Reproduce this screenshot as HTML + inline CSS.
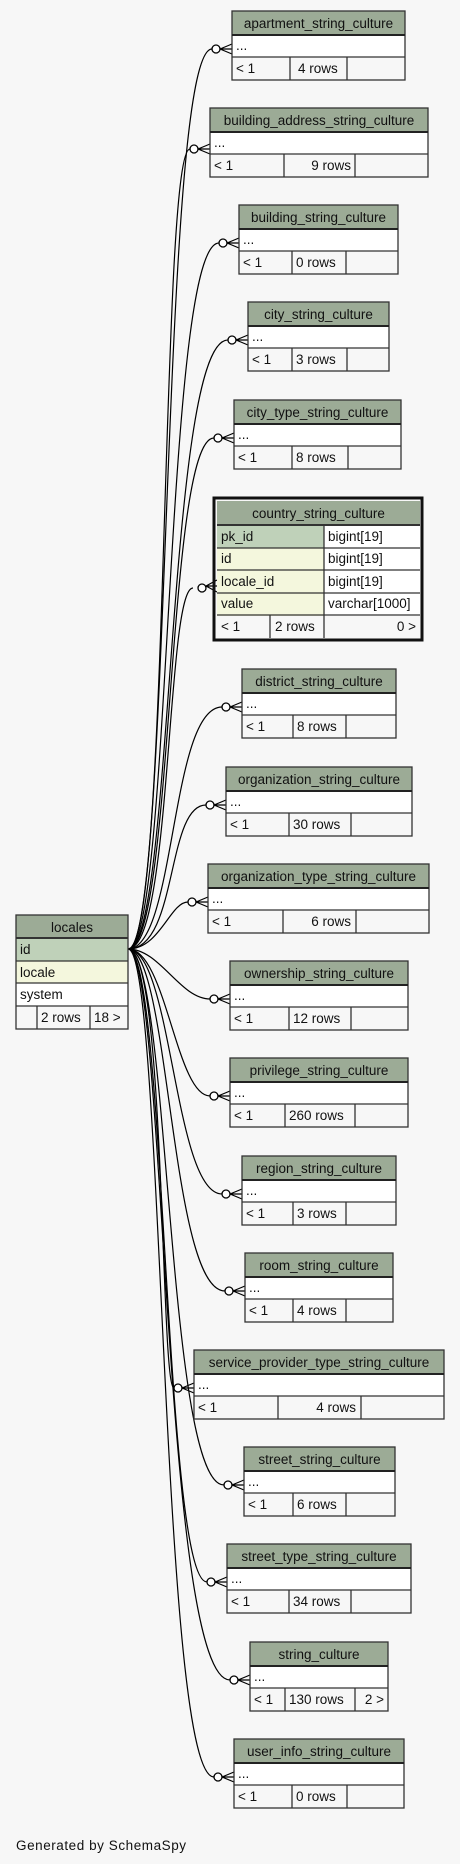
<!DOCTYPE html>
<html><head><meta charset="utf-8"><style>
html,body{margin:0;padding:0;background:#f7f7f7;}
svg{display:block;font-family:"Liberation Sans",Arial,sans-serif;}
text{font-size:13.5px;fill:#111;}
.h{fill:#9cab96;}
.b{stroke:#333;stroke-width:1.3;fill:none;}
.e{stroke:#000;stroke-width:1.2;fill:none;}
</style></head><body>
<svg width="460" height="1864" viewBox="0 0 460 1864" xmlns="http://www.w3.org/2000/svg">
<rect width="460" height="1864" fill="#f7f7f7"/>

<!-- connectors -->
<g class="e">
<path d="M128,949 C172,949 160,49 212,49"/>
<path d="M128,949 C170,949 160,149 190,149"/>
<path d="M128,949 C172,949 164,243 219,243"/>
<path d="M128,949 C174,949 166,340 228,340"/>
<path d="M128,949 C174,949 166,438 214,438"/>
<path d="M128,949 C172,949 166,588 193,588"/>
<path d="M128,949 C176,949 170,707 222,707"/>
<path d="M128,949 C178,949 166,805 206,805"/>
<path d="M128,949 C160,949 170,902 188,902"/>
<path d="M128,949 C160,949 180,999 210,999"/>
<path d="M128,949 C166,949 176,1096 210,1096"/>
<path d="M128,949 C172,949 174,1194 222,1194"/>
<path d="M128,949 C170,949 170,1291 225,1291"/>
<path d="M128,949 C166,949 160,1388 174,1388"/>
<path d="M128,949 C170,949 166,1485 224,1485"/>
<path d="M128,949 C166,949 164,1582 207,1582"/>
<path d="M128,949 C166,949 162,1680 230,1680"/>
<path d="M128,949 C164,949 160,1777 214,1777"/>
</g>
<g stroke="#000" stroke-width="1.3" fill="#fff">
<circle cx="216" cy="49" r="4"/><circle cx="194" cy="149" r="4"/><circle cx="223" cy="243" r="4"/>
<circle cx="232" cy="340" r="4"/><circle cx="218" cy="438" r="4"/><circle cx="202" cy="588" r="4"/>
<circle cx="226" cy="707" r="4"/><circle cx="210" cy="805" r="4"/><circle cx="192" cy="902" r="4"/>
<circle cx="214" cy="999" r="4"/><circle cx="214" cy="1096" r="4"/><circle cx="226" cy="1194" r="4"/>
<circle cx="229" cy="1291" r="4"/><circle cx="178" cy="1388" r="4"/><circle cx="228" cy="1485" r="4"/>
<circle cx="211" cy="1582" r="4"/><circle cx="234" cy="1680" r="4"/><circle cx="218" cy="1777" r="4"/>
</g>
<g class="e">
<path d="M220,49 L232,44 M220,49 L232,49 M220,49 L232,54"/>
<path d="M198,149 L210,144 M198,149 L210,149 M198,149 L210,154"/>
<path d="M227,243 L239,238 M227,243 L239,243 M227,243 L239,248"/>
<path d="M236,340 L248,335 M236,340 L248,340 M236,340 L248,345"/>
<path d="M222,438 L234,433 M222,438 L234,438 M222,438 L234,443"/>
<path d="M206,586 L217,580 M206,586 L217,586 M206,586 L217,592"/>
<path d="M230,707 L242,702 M230,707 L242,707 M230,707 L242,712"/>
<path d="M214,805 L226,800 M214,805 L226,805 M214,805 L226,810"/>
<path d="M196,902 L208,897 M196,902 L208,902 M196,902 L208,907"/>
<path d="M218,999 L230,994 M218,999 L230,999 M218,999 L230,1004"/>
<path d="M218,1096 L230,1091 M218,1096 L230,1096 M218,1096 L230,1101"/>
<path d="M230,1194 L242,1189 M230,1194 L242,1194 M230,1194 L242,1199"/>
<path d="M233,1291 L245,1286 M233,1291 L245,1291 M233,1291 L245,1296"/>
<path d="M182,1388 L194,1383 M182,1388 L194,1388 M182,1388 L194,1393"/>
<path d="M232,1485 L244,1480 M232,1485 L244,1485 M232,1485 L244,1490"/>
<path d="M215,1582 L227,1577 M215,1582 L227,1582 M215,1582 L227,1587"/>
<path d="M238,1680 L250,1675 M238,1680 L250,1680 M238,1680 L250,1685"/>
<path d="M222,1777 L234,1772 M222,1777 L234,1777 M222,1777 L234,1782"/>
</g>

<g><rect x="232" y="11" width="173" height="24" class="h"/><rect x="232" y="35" width="173" height="22" fill="#fff"/>
<rect x="232" y="11" width="173" height="69" class="b"/><line x1="232" y1="35" x2="405" y2="35" stroke="#222" stroke-width="2"/><line x1="232" y1="57" x2="405" y2="57" class="b"/>
<line x1="290" y1="57" x2="290" y2="80" class="b"/><line x1="347" y1="57" x2="347" y2="80" class="b"/>
<text x="318.5" y="28" text-anchor="middle">apartment_string_culture</text><text x="236" y="50">...</text><text x="236" y="73">&lt; 1</text><text x="298" y="73">4 rows</text></g>

<g><rect x="210" y="108" width="218" height="24" class="h"/><rect x="210" y="132" width="218" height="22" fill="#fff"/>
<rect x="210" y="108" width="218" height="69" class="b"/><line x1="210" y1="132" x2="428" y2="132" stroke="#222" stroke-width="2"/><line x1="210" y1="154" x2="428" y2="154" class="b"/>
<line x1="284" y1="154" x2="284" y2="177" class="b"/><line x1="355" y1="154" x2="355" y2="177" class="b"/>
<text x="319" y="125" text-anchor="middle">building_address_string_culture</text><text x="214" y="147">...</text><text x="214" y="170">&lt; 1</text><text x="351" y="170" text-anchor="end">9 rows</text></g>

<g><rect x="239" y="205" width="159" height="24" class="h"/><rect x="239" y="229" width="159" height="22" fill="#fff"/>
<rect x="239" y="205" width="159" height="69" class="b"/><line x1="239" y1="229" x2="398" y2="229" stroke="#222" stroke-width="2"/><line x1="239" y1="251" x2="398" y2="251" class="b"/>
<line x1="292" y1="251" x2="292" y2="274" class="b"/><line x1="346" y1="251" x2="346" y2="274" class="b"/>
<text x="318.5" y="222" text-anchor="middle">building_string_culture</text><text x="243" y="244">...</text><text x="243" y="267">&lt; 1</text><text x="296" y="267">0 rows</text></g>

<g><rect x="248" y="302" width="141" height="24" class="h"/><rect x="248" y="326" width="141" height="22" fill="#fff"/>
<rect x="248" y="302" width="141" height="69" class="b"/><line x1="248" y1="326" x2="389" y2="326" stroke="#222" stroke-width="2"/><line x1="248" y1="348" x2="389" y2="348" class="b"/>
<line x1="292" y1="348" x2="292" y2="371" class="b"/><line x1="347" y1="348" x2="347" y2="371" class="b"/>
<text x="318.5" y="319" text-anchor="middle">city_string_culture</text><text x="252" y="341">...</text><text x="252" y="364">&lt; 1</text><text x="296" y="364">3 rows</text></g>

<g><rect x="234" y="400" width="167" height="24" class="h"/><rect x="234" y="424" width="167" height="22" fill="#fff"/>
<rect x="234" y="400" width="167" height="69" class="b"/><line x1="234" y1="424" x2="401" y2="424" stroke="#222" stroke-width="2"/><line x1="234" y1="446" x2="401" y2="446" class="b"/>
<line x1="292" y1="446" x2="292" y2="469" class="b"/><line x1="348" y1="446" x2="348" y2="469" class="b"/>
<text x="317.5" y="417" text-anchor="middle">city_type_string_culture</text><text x="238" y="439">...</text><text x="238" y="462">&lt; 1</text><text x="296" y="462">8 rows</text></g>

<g><rect x="214" y="498" width="208" height="142" fill="none" stroke="#111" stroke-width="3"/>
<rect x="217" y="501" width="203" height="24" class="h"/>
<rect x="217" y="525" width="107" height="23" fill="#bfd1b9"/><rect x="217" y="548" width="107" height="68" fill="#f4f7dd"/>
<rect x="324" y="525" width="96" height="91" fill="#fff"/>
<g class="b"><line x1="217" y1="525" x2="420" y2="525" stroke-width="2"/><line x1="217" y1="548" x2="420" y2="548"/><line x1="217" y1="570" x2="420" y2="570"/><line x1="217" y1="593" x2="420" y2="593"/><line x1="217" y1="615" x2="420" y2="615"/>
<line x1="324" y1="525" x2="324" y2="638"/><line x1="270" y1="615" x2="270" y2="638"/></g>
<text x="318.5" y="518" text-anchor="middle">country_string_culture</text>
<text x="221" y="541">pk_id</text><text x="328" y="541">bigint[19]</text>
<text x="221" y="563">id</text><text x="328" y="563">bigint[19]</text>
<text x="221" y="586">locale_id</text><text x="328" y="586">bigint[19]</text>
<text x="221" y="608">value</text><text x="328" y="608">varchar[1000]</text>
<text x="221" y="631">&lt; 1</text><text x="275" y="631">2 rows</text><text x="416" y="631" text-anchor="end">0 &gt;</text></g>

<g><rect x="242" y="669" width="154" height="24" class="h"/><rect x="242" y="693" width="154" height="22" fill="#fff"/>
<rect x="242" y="669" width="154" height="69" class="b"/><line x1="242" y1="693" x2="396" y2="693" stroke="#222" stroke-width="2"/><line x1="242" y1="715" x2="396" y2="715" class="b"/>
<line x1="293" y1="715" x2="293" y2="738" class="b"/><line x1="346" y1="715" x2="346" y2="738" class="b"/>
<text x="319" y="686" text-anchor="middle">district_string_culture</text><text x="246" y="708">...</text><text x="246" y="731">&lt; 1</text><text x="297" y="731">8 rows</text></g>

<g><rect x="226" y="767" width="186" height="24" class="h"/><rect x="226" y="791" width="186" height="22" fill="#fff"/>
<rect x="226" y="767" width="186" height="69" class="b"/><line x1="226" y1="791" x2="412" y2="791" stroke="#222" stroke-width="2"/><line x1="226" y1="813" x2="412" y2="813" class="b"/>
<line x1="289" y1="813" x2="289" y2="836" class="b"/><line x1="351" y1="813" x2="351" y2="836" class="b"/>
<text x="319" y="784" text-anchor="middle">organization_string_culture</text><text x="230" y="806">...</text><text x="230" y="829">&lt; 1</text><text x="293" y="829">30 rows</text></g>

<g><rect x="208" y="864" width="221" height="24" class="h"/><rect x="208" y="888" width="221" height="22" fill="#fff"/>
<rect x="208" y="864" width="221" height="69" class="b"/><line x1="208" y1="888" x2="429" y2="888" stroke="#222" stroke-width="2"/><line x1="208" y1="910" x2="429" y2="910" class="b"/>
<line x1="283" y1="910" x2="283" y2="933" class="b"/><line x1="356" y1="910" x2="356" y2="933" class="b"/>
<text x="318.5" y="881" text-anchor="middle">organization_type_string_culture</text><text x="212" y="903">...</text><text x="212" y="926">&lt; 1</text><text x="351" y="926" text-anchor="end">6 rows</text></g>

<g><rect x="230" y="961" width="178" height="24" class="h"/><rect x="230" y="985" width="178" height="22" fill="#fff"/>
<rect x="230" y="961" width="178" height="69" class="b"/><line x1="230" y1="985" x2="408" y2="985" stroke="#222" stroke-width="2"/><line x1="230" y1="1007" x2="408" y2="1007" class="b"/>
<line x1="289" y1="1007" x2="289" y2="1030" class="b"/><line x1="351" y1="1007" x2="351" y2="1030" class="b"/>
<text x="319" y="978" text-anchor="middle">ownership_string_culture</text><text x="234" y="1000">...</text><text x="234" y="1023">&lt; 1</text><text x="293" y="1023">12 rows</text></g>

<g><rect x="230" y="1058" width="178" height="24" class="h"/><rect x="230" y="1082" width="178" height="22" fill="#fff"/>
<rect x="230" y="1058" width="178" height="69" class="b"/><line x1="230" y1="1082" x2="408" y2="1082" stroke="#222" stroke-width="2"/><line x1="230" y1="1104" x2="408" y2="1104" class="b"/>
<line x1="285" y1="1104" x2="285" y2="1127" class="b"/><line x1="355" y1="1104" x2="355" y2="1127" class="b"/>
<text x="319" y="1075" text-anchor="middle">privilege_string_culture</text><text x="234" y="1097">...</text><text x="234" y="1120">&lt; 1</text><text x="289" y="1120">260 rows</text></g>

<g><rect x="242" y="1156" width="154" height="24" class="h"/><rect x="242" y="1180" width="154" height="22" fill="#fff"/>
<rect x="242" y="1156" width="154" height="69" class="b"/><line x1="242" y1="1180" x2="396" y2="1180" stroke="#222" stroke-width="2"/><line x1="242" y1="1202" x2="396" y2="1202" class="b"/>
<line x1="293" y1="1202" x2="293" y2="1225" class="b"/><line x1="346" y1="1202" x2="346" y2="1225" class="b"/>
<text x="319" y="1173" text-anchor="middle">region_string_culture</text><text x="246" y="1195">...</text><text x="246" y="1218">&lt; 1</text><text x="297" y="1218">3 rows</text></g>

<g><rect x="245" y="1253" width="148" height="24" class="h"/><rect x="245" y="1277" width="148" height="22" fill="#fff"/>
<rect x="245" y="1253" width="148" height="69" class="b"/><line x1="245" y1="1277" x2="393" y2="1277" stroke="#222" stroke-width="2"/><line x1="245" y1="1299" x2="393" y2="1299" class="b"/>
<line x1="293" y1="1299" x2="293" y2="1322" class="b"/><line x1="346" y1="1299" x2="346" y2="1322" class="b"/>
<text x="319" y="1270" text-anchor="middle">room_string_culture</text><text x="249" y="1292">...</text><text x="249" y="1315">&lt; 1</text><text x="297" y="1315">4 rows</text></g>

<g><rect x="194" y="1350" width="250" height="24" class="h"/><rect x="194" y="1374" width="250" height="22" fill="#fff"/>
<rect x="194" y="1350" width="250" height="69" class="b"/><line x1="194" y1="1374" x2="444" y2="1374" stroke="#222" stroke-width="2"/><line x1="194" y1="1396" x2="444" y2="1396" class="b"/>
<line x1="278" y1="1396" x2="278" y2="1419" class="b"/><line x1="361" y1="1396" x2="361" y2="1419" class="b"/>
<text x="319" y="1367" text-anchor="middle">service_provider_type_string_culture</text><text x="198" y="1389">...</text><text x="198" y="1412">&lt; 1</text><text x="356" y="1412" text-anchor="end">4 rows</text></g>

<g><rect x="244" y="1447" width="151" height="24" class="h"/><rect x="244" y="1471" width="151" height="22" fill="#fff"/>
<rect x="244" y="1447" width="151" height="69" class="b"/><line x1="244" y1="1471" x2="395" y2="1471" stroke="#222" stroke-width="2"/><line x1="244" y1="1493" x2="395" y2="1493" class="b"/>
<line x1="293" y1="1493" x2="293" y2="1516" class="b"/><line x1="346" y1="1493" x2="346" y2="1516" class="b"/>
<text x="319.5" y="1464" text-anchor="middle">street_string_culture</text><text x="248" y="1486">...</text><text x="248" y="1509">&lt; 1</text><text x="297" y="1509">6 rows</text></g>

<g><rect x="227" y="1544" width="184" height="24" class="h"/><rect x="227" y="1568" width="184" height="22" fill="#fff"/>
<rect x="227" y="1544" width="184" height="69" class="b"/><line x1="227" y1="1568" x2="411" y2="1568" stroke="#222" stroke-width="2"/><line x1="227" y1="1590" x2="411" y2="1590" class="b"/>
<line x1="289" y1="1590" x2="289" y2="1613" class="b"/><line x1="351" y1="1590" x2="351" y2="1613" class="b"/>
<text x="319" y="1561" text-anchor="middle">street_type_string_culture</text><text x="231" y="1583">...</text><text x="231" y="1606">&lt; 1</text><text x="293" y="1606">34 rows</text></g>

<g><rect x="250" y="1642" width="138" height="24" class="h"/><rect x="250" y="1666" width="138" height="22" fill="#fff"/>
<rect x="250" y="1642" width="138" height="69" class="b"/><line x1="250" y1="1666" x2="388" y2="1666" stroke="#222" stroke-width="2"/><line x1="250" y1="1688" x2="388" y2="1688" class="b"/>
<line x1="285" y1="1688" x2="285" y2="1711" class="b"/><line x1="355" y1="1688" x2="355" y2="1711" class="b"/>
<text x="319" y="1659" text-anchor="middle">string_culture</text><text x="254" y="1681">...</text><text x="254" y="1704">&lt; 1</text><text x="289" y="1704">130 rows</text><text x="384" y="1704" text-anchor="end">2 &gt;</text></g>

<g><rect x="234" y="1739" width="170" height="24" class="h"/><rect x="234" y="1763" width="170" height="22" fill="#fff"/>
<rect x="234" y="1739" width="170" height="69" class="b"/><line x1="234" y1="1763" x2="404" y2="1763" stroke="#222" stroke-width="2"/><line x1="234" y1="1785" x2="404" y2="1785" class="b"/>
<line x1="292" y1="1785" x2="292" y2="1808" class="b"/><line x1="347" y1="1785" x2="347" y2="1808" class="b"/>
<text x="319" y="1756" text-anchor="middle">user_info_string_culture</text><text x="238" y="1778">...</text><text x="238" y="1801">&lt; 1</text><text x="296" y="1801">0 rows</text></g>

<g><rect x="16" y="915" width="112" height="23" class="h"/>
<rect x="16" y="938" width="112" height="23" fill="#bfd1b9"/><rect x="16" y="961" width="112" height="22" fill="#f4f7dd"/><rect x="16" y="983" width="112" height="23" fill="#fff"/>
<rect x="16" y="915" width="112" height="114" class="b"/>
<g class="b"><line x1="16" y1="938" x2="128" y2="938" stroke-width="2"/><line x1="16" y1="961" x2="128" y2="961"/><line x1="16" y1="983" x2="128" y2="983"/><line x1="16" y1="1006" x2="128" y2="1006"/>
<line x1="37" y1="1006" x2="37" y2="1029"/><line x1="90" y1="1006" x2="90" y2="1029"/></g>
<text x="72" y="932" text-anchor="middle">locales</text><text x="20" y="954">id</text><text x="20" y="977">locale</text><text x="20" y="999">system</text>
<text x="41" y="1022">2 rows</text><text x="94" y="1022">18 &gt;</text></g>

<text x="16" y="1850" font-size="14.5" textLength="170">Generated by SchemaSpy</text>
</svg>
</body></html>
